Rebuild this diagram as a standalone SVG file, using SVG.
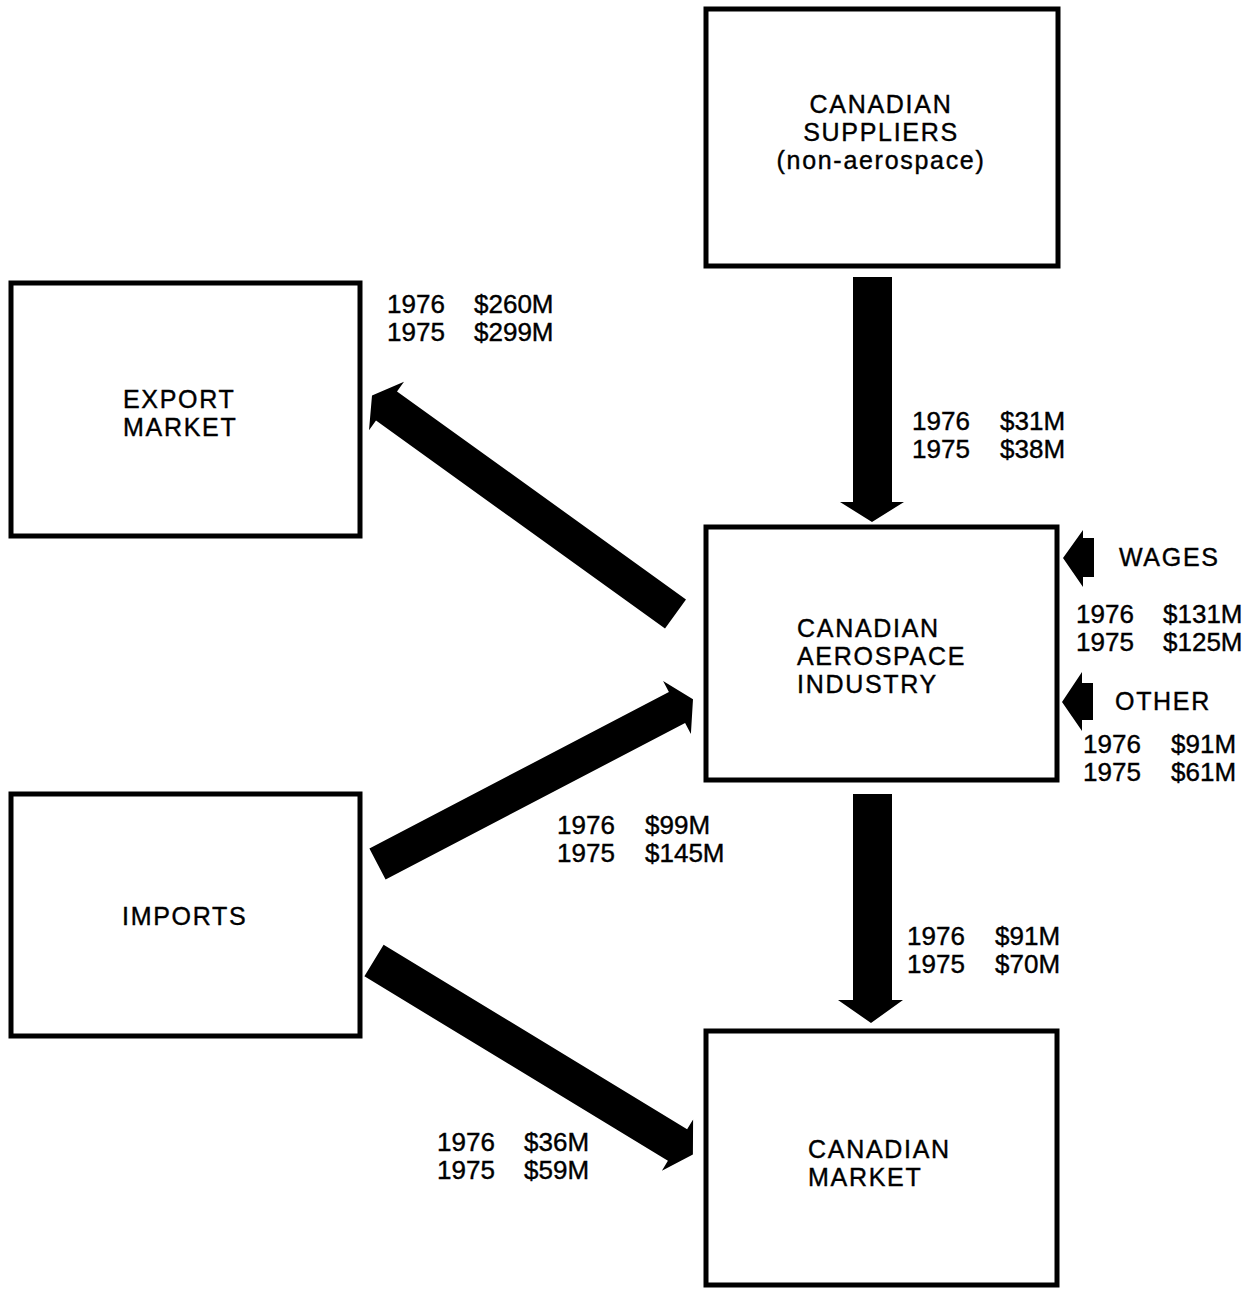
<svg xmlns="http://www.w3.org/2000/svg" width="1259" height="1289" viewBox="0 0 1259 1289">
<style>
.box{fill:#fff;stroke:#000;stroke-width:5}
.lbl{font-family:"Liberation Sans",Arial,sans-serif;font-size:25px;letter-spacing:1.7px;fill:#000;stroke:#000;stroke-width:0.4}
.num{font-family:"Liberation Sans",Arial,sans-serif;font-size:26px;fill:#000;stroke:#000;stroke-width:0.4}
.arr{fill:#000}
</style>
<rect width="1259" height="1289" fill="#fff"/>
<g id="suppliers">
<rect class="box" x="706" y="9" width="352" height="257"/>
<text class="lbl" text-anchor="middle"><tspan x="881" y="113">CANADIAN</tspan><tspan x="881" y="141">SUPPLIERS</tspan><tspan x="881" y="169">(non-aerospace)</tspan></text>
</g>
<g id="export">
<rect class="box" x="11" y="283" width="349" height="253"/>
<text class="lbl"><tspan x="123" y="408">EXPORT</tspan><tspan x="123" y="436">MARKET</tspan></text>
</g>
<g id="aerospace">
<rect class="box" x="706" y="527" width="351" height="253"/>
<text class="lbl"><tspan x="797" y="637">CANADIAN</tspan><tspan x="797" y="665">AEROSPACE</tspan><tspan x="797" y="693">INDUSTRY</tspan></text>
</g>
<g id="imports">
<rect class="box" x="11" y="794" width="349" height="242"/>
<text class="lbl" x="122" y="925">IMPORTS</text>
</g>
<g id="market">
<rect class="box" x="706" y="1031" width="351" height="254"/>
<text class="lbl"><tspan x="808" y="1158">CANADIAN</tspan><tspan x="808" y="1186">MARKET</tspan></text>
</g>
<g id="connectors">
<polygon class="arr" points="853,277 892,277 892,502 904,502 872,522 840,502 853,502"/>
<polygon class="arr" points="853,794 892,794 892,1000 903,1000 871,1023 838,1000 853,1000"/>
<polygon class="arr" points="686,599.4 397,391.4 404,381.7 372,395.5 369,430.3 376,420.6 665,628.6"/>
<polygon class="arr" points="369.4,848.5 668.9,692 663.1,680.9 693,699.2 690.9,734.1 685.1,723 385.6,879.5"/>
<polygon class="arr" points="383.6,944.7 687.1,1129.2 693.1,1119.4 692.9,1154.4 661.9,1170.7 667.9,1160.8 364.4,976.3"/>
<polygon class="arr" points="1063,558 1083,530 1083,538 1094,538 1094,577 1083,577 1083,587"/>
<polygon class="arr" points="1062,702 1082,672 1082,683 1093,683 1093,720 1082,720 1082,731"/>
</g>
<g id="labels">
<text class="num"><tspan x="387" y="313">1976</tspan><tspan x="474" y="313">$260M</tspan><tspan x="387" y="341">1975</tspan><tspan x="474" y="341">$299M</tspan></text>
<text class="num"><tspan x="912" y="430">1976</tspan><tspan x="1000" y="430">$31M</tspan><tspan x="912" y="458">1975</tspan><tspan x="1000" y="458">$38M</tspan></text>
<text class="lbl" x="1119" y="566">WAGES</text>
<text class="num"><tspan x="1076" y="623">1976</tspan><tspan x="1163" y="623">$131M</tspan><tspan x="1076" y="651">1975</tspan><tspan x="1163" y="651">$125M</tspan></text>
<text class="lbl" x="1115" y="710">OTHER</text>
<text class="num"><tspan x="1083" y="753">1976</tspan><tspan x="1171" y="753">$91M</tspan><tspan x="1083" y="781">1975</tspan><tspan x="1171" y="781">$61M</tspan></text>
<text class="num"><tspan x="557" y="834">1976</tspan><tspan x="645" y="834">$99M</tspan><tspan x="557" y="862">1975</tspan><tspan x="645" y="862">$145M</tspan></text>
<text class="num"><tspan x="907" y="945">1976</tspan><tspan x="995" y="945">$91M</tspan><tspan x="907" y="973">1975</tspan><tspan x="995" y="973">$70M</tspan></text>
<text class="num"><tspan x="437" y="1151">1976</tspan><tspan x="524" y="1151">$36M</tspan><tspan x="437" y="1179">1975</tspan><tspan x="524" y="1179">$59M</tspan></text>
</g>
</svg>
